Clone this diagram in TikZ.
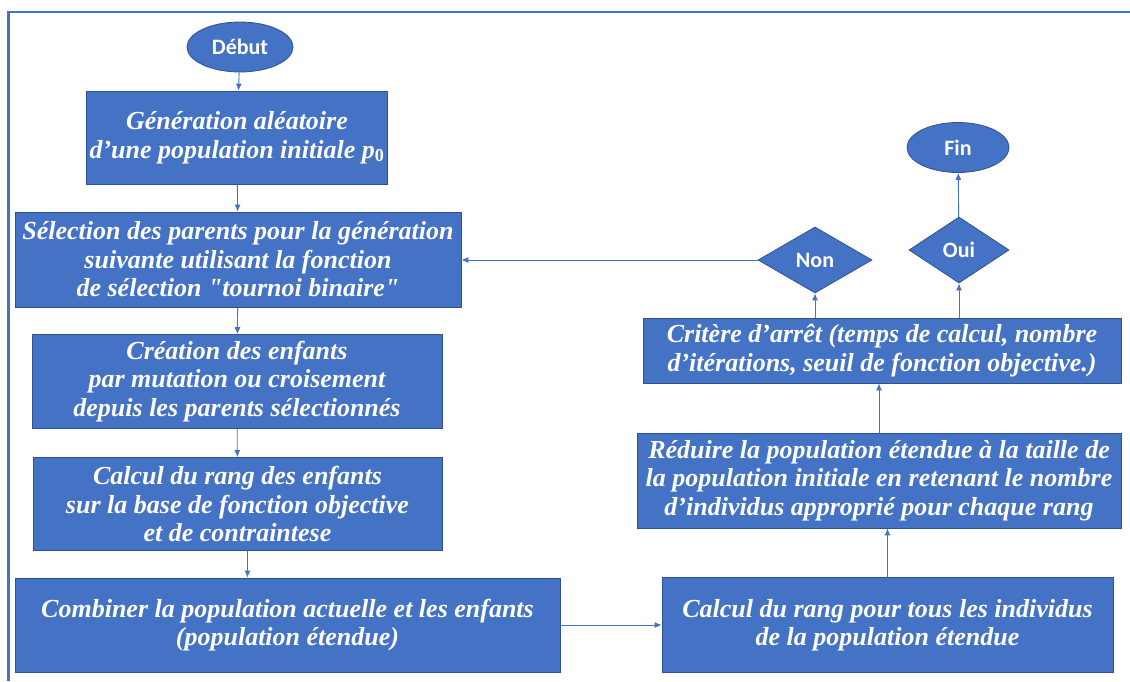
\documentclass[tikz,border=0pt]{standalone}
\usepackage{fontspec}
\setmainfont{Liberation Serif}
\newfontfamily\etiq{Carlito}
\usetikzlibrary{arrows.meta,positioning,shapes.geometric}
\definecolor{bleu}{HTML}{4472C4}
\definecolor{bleufonce}{HTML}{2F528F}

\begin{document}
\begin{tikzpicture}[x=1pt,y=-1pt,
  bloc/.style={draw=bleufonce, line width=0.8pt, fill=bleu, text=white, align=center, inner sep=0pt,
    font=\fontsize{26}{28.5}\selectfont\bfseries\itshape},
  term/.style={ellipse, draw=bleufonce, line width=0.8pt, fill=bleu, text=white, inner sep=0pt,
    font=\etiq\fontsize{22}{24}\selectfont\bfseries},
  test/.style={term, diamond},
  fleche/.style={bleu, line width=0.9pt, -{Latex[length=7pt,width=6pt]}}]
\useasboundingbox (0,0) rectangle (1130,681);
\draw[bleu, line width=2.5pt] (8.5,681) -- (8.5,12) -- (1130,12);

\node[term, minimum width=106, minimum height=50] (debut) at (240,47) {Début};
\node[bloc, minimum width=301, minimum height=93] (gen) at (237,137.5)
  {Génération aléatoire\\d'une population initiale p\textsubscript{\upshape 0}};
\node[bloc, minimum width=446, minimum height=95] (sel) at (238,259.5)
  {Sélection des parents pour la génération\\suivante utilisant la fonction\\de sélection \textquotedbl tournoi binaire\textquotedbl};
\node[bloc, minimum width=410, minimum height=94] (crea) at (237,381.5)
  {Création des enfants\\par mutation ou croisement\\depuis les parents sélectionnés};
\node[bloc, minimum width=409, minimum height=93] (rang) at (237.5,504)
  {Calcul du rang des enfants\\sur la base de fonction objective\\et de contraintese};
\node[bloc, minimum width=545, minimum height=94] (comb) at (287.5,625)
  {Combiner la population actuelle et les enfants\\(population étendue)};
\node[bloc, minimum width=451, minimum height=95] (calc) at (887.5,625)
  {Calcul du rang pour tous les individus\\de la population étendue};
\node[bloc, minimum width=484, minimum height=95] (red) at (879,480.5)
  {Réduire la population étendue à la taille de\\la population initiale en retenant le nombre\\d'individus approprié pour chaque rang};
\node[bloc, minimum width=478, minimum height=65] (crit) at (882,350.5)
  {Critère d'arrêt (temps de calcul, nombre\\d'itérations, seuil de fonction objective.)};
\node[test, minimum width=114, minimum height=66] (non) at (815,260) {Non};
\node[test, minimum width=100, minimum height=66] (oui) at (959,250) {Oui};
\node[term, minimum width=102, minimum height=50] (fin) at (958,147.5) {Fin};

\draw[fleche] (debut) -- (gen);
\draw[fleche] (gen) -- (sel);
\draw[fleche] (sel) -- (crea);
\draw[fleche] (crea) -- (rang);
\draw[fleche] ([xshift=10]rang.south) -- ([xshift=10]rang.south |- comb.north);
\draw[fleche] (comb) -- (calc);
\draw[fleche] (calc.north) -- (calc.north |- red.south);
\draw[fleche] (red.north) -- (red.north |- crit.south);
\draw[fleche] (non.south |- crit.north) -- (non.south);
\draw[fleche] (oui.south |- crit.north) -- (oui.south);
\draw[fleche] (oui) -- (fin);
\draw[fleche] (non.west) -- (non.west -| sel.east);
\end{tikzpicture}
\end{document}
